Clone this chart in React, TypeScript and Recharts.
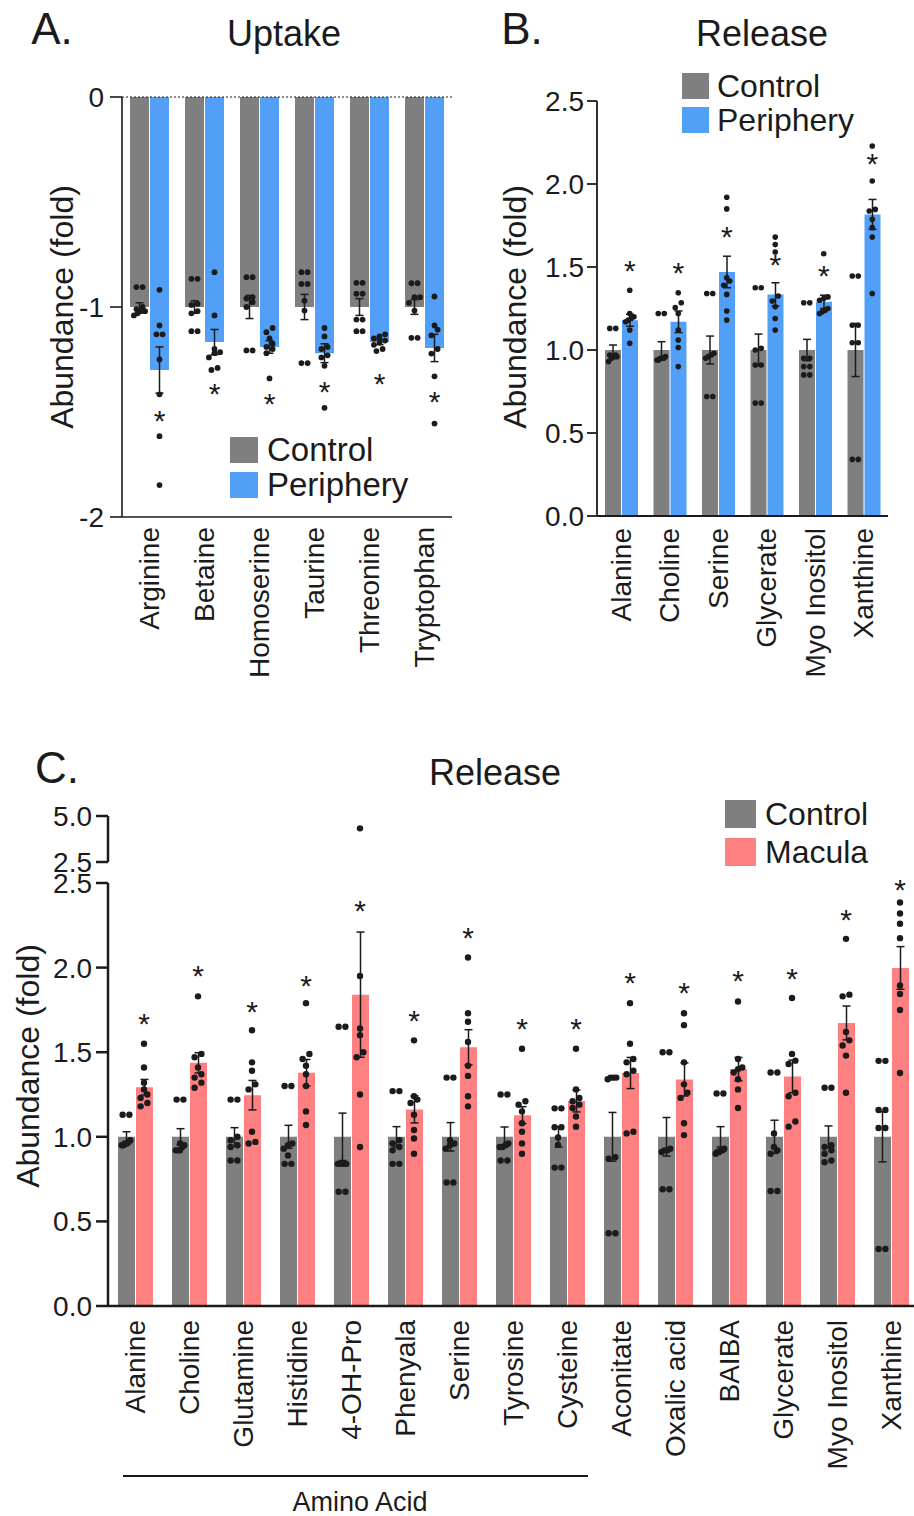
import { ComposedChart, Bar, ErrorBar, Scatter, XAxis, YAxis, ReferenceLine } from 'recharts';

const FONT = '"Liberation Sans", Arial, Helvetica, sans-serif';
const INK = '#1b1b1b';
const GREY = '#7f7f7f';
const BLUE = '#519ff7';
const PINK = '#fe8080';

// ---- A. Uptake (control vs periphery, fold change, negative) ----
const uptakeNames = ['Arginine', 'Betaine', 'Homoserine', 'Taurine', 'Threonine', 'Tryptophan'];
const uptakeCtrlMean = [-1.0, -1.0, -1.0, -1.0, -1.0, -1.0];
const uptakeCtrlSem = [0.02, 0.03, 0.055, 0.06, 0.04, 0.035];
const uptakePeriMean = [-1.3, -1.167, -1.19, -1.22, -1.167, -1.195];
const uptakePeriSem = [0.11, 0.06, 0.03, 0.045, 0.012, 0.065];
const uptakeCtrlPts = [
  [-0.905, -0.905, -1.0, -1.01, -1.02, -1.02, -1.03, -1.04],
  [-0.866, -0.866, -0.985, -0.99, -1.02, -1.03, -1.115, -1.115],
  [-0.858, -0.858, -0.953, -0.96, -0.977, -1.0, -1.207, -1.207],
  [-0.834, -0.834, -0.89, -0.89, -0.97, -1.017, -1.267, -1.267],
  [-0.885, -0.885, -0.937, -0.937, -1.06, -1.06, -1.115, -1.115],
  [-0.887, -0.887, -0.953, -0.953, -0.98, -1.017, -1.147, -1.147],
];
const uptakePeriPts = [
  [-0.918, -1.088, -1.13, -1.13, -1.25, -1.416, -1.615, -1.848],
  [-0.834, -1.04, -1.2, -1.215, -1.22, -1.24, -1.29, -1.3],
  [-1.1, -1.12, -1.15, -1.175, -1.19, -1.2, -1.22, -1.34],
  [-1.1, -1.14, -1.19, -1.2, -1.23, -1.24, -1.28, -1.48],
  [-1.13, -1.14, -1.15, -1.16, -1.17, -1.18, -1.2, -1.21],
  [-0.95, -1.088, -1.108, -1.135, -1.2, -1.222, -1.33, -1.555],
];
const uptakeStars = [-1.508, -1.38, -1.428, -1.373, -1.333, -1.42];

// ---- B. Release (control vs periphery) ----
const periNames = ['Alanine', 'Choline', 'Serine', 'Glycerate', 'Myo Inositol', 'Xanthine'];
const periCtrlMean = [1, 1, 1, 1, 1, 1];
const periCtrlSem = [0.03, 0.05, 0.084, 0.096, 0.064, 0.16];
const periExpMean = [1.179, 1.17, 1.47, 1.335, 1.29, 1.817];
const periExpSem = [0.036, 0.065, 0.095, 0.07, 0.04, 0.09];
const periCtrlPts = [
  [1.13, 1.13, 0.97, 0.96, 0.96, 0.97, 0.95, 0.93],
  [1.22, 1.22, 0.96, 0.95, 0.95, 0.95, 0.94, 0.94],
  [1.34, 1.34, 0.98, 0.97, 0.96, 0.95, 0.72, 0.72],
  [1.375, 1.375, 1.01, 1.0, 0.91, 0.91, 0.68, 0.68],
  [1.285, 1.285, 0.95, 0.95, 0.9, 0.9, 0.85, 0.85],
  [1.446, 1.446, 1.149, 1.149, 1.044, 1.044, 0.341, 0.341],
];
const periExpPts = [
  [1.36, 1.22, 1.2, 1.19, 1.18, 1.17, 1.12, 1.04],
  [1.345, 1.285, 1.255, 1.22, 1.12, 1.06, 1.015, 0.9],
  [1.92, 1.85, 1.435, 1.415, 1.39, 1.335, 1.235, 1.18],
  [1.68, 1.635, 1.59, 1.325, 1.295, 1.26, 1.19, 1.12],
  [1.58, 1.32, 1.31, 1.3, 1.25, 1.24, 1.23, 1.22],
  [2.229, 2.018, 1.847, 1.837, 1.787, 1.737, 1.68, 1.34],
];
const periStars = [1.52, 1.506, 1.72, 1.556, 1.49, 2.163];

// ---- C. Release (control vs macula) ----
const macNames = [
  'Alanine', 'Choline', 'Glutamine', 'Histidine', '4-OH-Pro', 'Phenyala', 'Serine', 'Tyrosine',
  'Cysteine', 'Aconitate', 'Oxalic acid', 'BAIBA', 'Glycerate', 'Myo Inositol', 'Xanthine',
];
const macCtrlMean = [1, 1, 1, 1, 1, 1, 1, 1, 1, 1, 1, 1, 1, 1, 1];
const macCtrlSem = [0.03, 0.048, 0.054, 0.068, 0.14, 0.06, 0.084, 0.058, 0.06, 0.144, 0.114, 0.06, 0.098, 0.064, 0.148];
const macExpMean = [1.293, 1.437, 1.246, 1.379, 1.84, 1.162, 1.529, 1.128, 1.212, 1.377, 1.339, 1.4, 1.357, 1.673, 1.998];
const macExpSem = [0.046, 0.06, 0.087, 0.078, 0.37, 0.08, 0.104, 0.05, 0.065, 0.092, 0.098, 0.069, 0.096, 0.1, 0.126];
const macCtrlPts = [
  [1.13, 1.13, 0.98, 0.97, 0.96, 0.96, 0.95, 0.95],
  [1.22, 1.22, 0.96, 0.95, 0.94, 0.92, 0.92, 0.92],
  [1.22, 1.22, 1.0, 0.98, 0.95, 0.94, 0.86, 0.86],
  [1.3, 1.3, 0.96, 0.95, 0.93, 0.89, 0.84, 0.84],
  [1.65, 1.65, 0.84, 0.84, 0.84, 0.84, 0.675, 0.675],
  [1.27, 1.27, 0.98, 0.96, 0.94, 0.92, 0.84, 0.84],
  [1.35, 1.35, 0.98, 0.96, 0.95, 0.93, 0.73, 0.73],
  [1.25, 1.25, 0.96, 0.95, 0.94, 0.94, 0.86, 0.86],
  [1.168, 1.168, 1.056, 1.056, 0.996, 0.952, 0.818, 0.818],
  [1.35, 1.35, 1.35, 1.34, 0.88, 0.87, 0.43, 0.43],
  [1.5, 1.5, 0.93, 0.92, 0.92, 0.91, 0.69, 0.69],
  [1.256, 1.256, 0.93, 0.92, 0.92, 0.91, 0.91, 0.9],
  [1.38, 1.38, 1.02, 0.94, 0.92, 0.9, 0.68, 0.68],
  [1.29, 1.29, 0.95, 0.94, 0.92, 0.9, 0.86, 0.85],
  [1.449, 1.449, 1.158, 1.158, 1.052, 1.052, 0.337, 0.337],
];
const macExpPts = [
  [1.55, 1.41, 1.32, 1.28, 1.25, 1.23, 1.2, 1.18],
  [1.83, 1.49, 1.47, 1.41, 1.37, 1.35, 1.32, 1.29],
  [1.63, 1.44, 1.39, 1.31, 1.28, 1.03, 0.97, 0.96],
  [1.79, 1.49, 1.46, 1.42, 1.37, 1.3, 1.15, 1.07],
  [4.33, 1.95, 1.64, 1.6, 1.5, 1.47, 1.25, 0.94],
  [1.57, 1.24, 1.22, 1.2, 1.13, 1.04, 0.99, 0.9],
  [2.06, 1.73, 1.68, 1.56, 1.42, 1.36, 1.24, 1.18],
  [1.52, 1.21, 1.19, 1.15, 1.08, 1.03, 0.96, 0.9],
  [1.52, 1.28, 1.23, 1.21, 1.19, 1.17, 1.12, 1.06],
  [1.79, 1.55, 1.46, 1.44, 1.39, 1.37, 1.03, 1.02],
  [1.73, 1.66, 1.44, 1.31, 1.26, 1.23, 1.08, 1.01],
  [1.8, 1.46, 1.41, 1.4, 1.38, 1.34, 1.28, 1.17],
  [1.82, 1.49, 1.45, 1.43, 1.26, 1.24, 1.09, 1.06],
  [2.17, 1.84, 1.83, 1.62, 1.57, 1.54, 1.48, 1.26],
  [2.385, 2.32, 2.259, 2.174, 1.894, 1.844, 1.749, 1.377],
];
const macStars = [1.709, 1.99, 1.78, 1.934, 2.375, 1.723, 2.214, 1.677, 1.677, 1.948, 1.894, 1.964, 1.974, 2.325, 2.5];

// y-axis break for panel C
const BREAK = 2.5;

type Row = Record<string, any>;
const PT_KEYS = [0, 1, 2, 3, 4, 5, 6, 7];

function makeRows(
  names: string[], ctrlMean: number[], ctrlSem: number[], expMean: number[], expSem: number[],
  ctrlPts: number[][], expPts: number[][], stars: number[] | null, keep: (v: number) => boolean = () => true,
): Row[] {
  return names.map((name, i) => {
    const row: Row = {
      name, ctrl: ctrlMean[i], ctrlSem: ctrlSem[i], exp: expMean[i], expSem: expSem[i],
      star: stars ? stars[i] : undefined, cAll: ctrlPts[i], eAll: expPts[i],
    };
    ctrlPts[i].forEach((v, k) => { row['c' + k] = keep(v) ? v : undefined; });
    expPts[i].forEach((v, k) => { row['e' + k] = keep(v) ? v : undefined; });
    return row;
  });
}

// spread near-equal replicates side by side, like a small beeswarm
function swarm(vals: number[], tol: number, step: number, maxW: number): number[] {
  const order = vals.map((_, i) => i).sort((a, b) => vals[a] - vals[b]);
  const offs = vals.map(() => 0);
  let i = 0;
  while (i < order.length) {
    let j = i + 1;
    while (j < order.length && vals[order[j]] - vals[order[i]] < tol) j++;
    const k = j - i;
    const sp = k > 1 ? Math.min(step, maxW / (k - 1)) : 0;
    for (let m = 0; m < k; m++) offs[order[i + m]] = (m - (k - 1) / 2) * sp;
    i = j;
  }
  return offs;
}

const rotTick = (dy: number) => (p: any) => (
  <text
    transform={`translate(${p.x},${p.y + dy}) rotate(-90)`}
    textAnchor="end" dominantBaseline="central"
    fontSize={28} fill={INK} fontFamily={FONT}
  >
    {p.payload.value}
  </text>
);

interface ChartProps {
  rows: Row[];
  width: number;
  height: number;
  margin: { top: number; right: number; bottom: number; left: number };
  domain: [number, number];
  ticks: number[];
  yWidth: number;
  fmt: (v: number) => string;
  expColor: string;
  barSize: number;
  barGap: number;
  tol: number;
  dotR: number;
  tickSize: number;
  tickMargin: number;
  axisW: number;
  xHeight: number;
  labelDy: number;
  hideX?: boolean;
  bars?: boolean;
  zeroLine?: boolean;
}

function DotBarChart(props: ChartProps) {
  const {
    rows, width, height, margin, domain, ticks, yWidth, fmt, expColor, barSize, barGap, tol, dotR,
    tickSize, tickMargin, axisW, xHeight, labelDy, hideX = false, bars = true, zeroLine = false,
  } = props;
  const shift = (barSize + barGap) / 2;

  const dot = (side: 'c' | 'e', k: number) => (p: any) => {
    const { cx, cy, payload } = p;
    if (!Number.isFinite(cx) || !Number.isFinite(cy)) return <g />;
    const offs = swarm(payload[side + 'All'], tol, dotR * 2 + 0.4, barSize - dotR * 2 - 2);
    const x = cx + (side === 'c' ? -shift : shift) + offs[k];
    return <circle cx={x} cy={cy} r={dotR} fill={INK} />;
  };

  // significance asterisk, glyph centred on its value
  const star = (p: any) => {
    const { cx, cy } = p;
    if (!Number.isFinite(cx) || !Number.isFinite(cy)) return <g />;
    return (
      <text x={cx + shift} y={cy} dy={17} textAnchor="middle" fontSize={30} fill={INK} fontFamily={FONT}>*</text>
    );
  };

  return (
    <ComposedChart width={width} height={height} data={rows} margin={margin} barGap={barGap} style={{ fontFamily: FONT }}>
      <XAxis
        dataKey="name" scale="band" hide={hideX} height={xHeight} interval={0}
        tickLine={false} tickSize={0} tickMargin={0}
        axisLine={{ stroke: INK, strokeWidth: axisW }} tick={rotTick(labelDy)}
      />
      <YAxis
        type="number" domain={domain} ticks={ticks} width={yWidth} interval={0}
        tickFormatter={fmt} tickSize={tickSize} tickMargin={tickMargin}
        axisLine={{ stroke: INK, strokeWidth: axisW }} tickLine={{ stroke: INK, strokeWidth: axisW }}
        tick={{ fontSize: 28, fill: INK, fontFamily: FONT }}
      />
      {zeroLine && <ReferenceLine y={0} stroke={INK} strokeWidth={1.2} strokeDasharray="2 2" />}
      {bars && (
        <Bar dataKey="ctrl" fill={GREY} barSize={barSize} isAnimationActive={false}>
          <ErrorBar dataKey="ctrlSem" width={4} stroke={INK} strokeWidth={1.5} direction="y" isAnimationActive={false} />
        </Bar>
      )}
      {bars && (
        <Bar dataKey="exp" fill={expColor} barSize={barSize} isAnimationActive={false}>
          <ErrorBar dataKey="expSem" width={4} stroke={INK} strokeWidth={1.5} direction="y" isAnimationActive={false} />
        </Bar>
      )}
      {PT_KEYS.map((k) => (
        <Scatter key={'c' + k} dataKey={'c' + k} shape={dot('c', k)} isAnimationActive={false} />
      ))}
      {PT_KEYS.map((k) => (
        <Scatter key={'e' + k} dataKey={'e' + k} shape={dot('e', k)} isAnimationActive={false} />
      ))}
      {bars && <Scatter dataKey="star" shape={star} isAnimationActive={false} />}
    </ComposedChart>
  );
}

function Txt({ x, y, size, children, rotate = false }: { x: number; y: number; size: number; children: string; rotate?: boolean }) {
  return (
    <div
      style={{
        position: 'absolute', left: x, top: y, fontSize: size, lineHeight: 1, whiteSpace: 'nowrap',
        color: INK, fontFamily: FONT,
        transform: `translate(-50%, -50%)${rotate ? ' rotate(-90deg)' : ''}`,
      }}
    >
      {children}
    </div>
  );
}

function Key({ left, top, rowH, sw, swH, gap, size, items }: {
  left: number; top: number; rowH: number; sw: number; swH: number; gap: number; size: number;
  items: { label: string; color: string }[];
}) {
  return (
    <div style={{ position: 'absolute', left, top, fontFamily: FONT, color: INK }}>
      {items.map((it) => (
        <div key={it.label} style={{ display: 'flex', alignItems: 'center', height: rowH }}>
          <div style={{ width: sw, height: swH, background: it.color }} />
          <span style={{ marginLeft: gap, fontSize: size, lineHeight: 1 }}>{it.label}</span>
        </div>
      ))}
    </div>
  );
}

const fmtInt = (v: number) => String(v);
const fmt1 = (v: number) => v.toFixed(1);

export default function App() {
  const uptakeRows = makeRows(uptakeNames, uptakeCtrlMean, uptakeCtrlSem, uptakePeriMean, uptakePeriSem,
    uptakeCtrlPts, uptakePeriPts, uptakeStars);
  const periRows = makeRows(periNames, periCtrlMean, periCtrlSem, periExpMean, periExpSem,
    periCtrlPts, periExpPts, periStars);
  const macLow = makeRows(macNames, macCtrlMean, macCtrlSem, macExpMean, macExpSem,
    macCtrlPts, macExpPts, macStars, (v) => v <= BREAK);
  const macHigh = makeRows(macNames, macCtrlMean, macCtrlSem, macExpMean, macExpSem,
    macCtrlPts, macExpPts, null, (v) => v > BREAK);

  return (
    <div style={{ position: 'absolute', left: 0, top: 0, width: 914, height: 1516, overflow: 'hidden', background: '#fff', fontFamily: FONT }}>
      {/* A */}
      <div style={{ position: 'absolute', left: 0, top: 0 }}>
        <DotBarChart
          rows={uptakeRows} width={470} height={700}
          margin={{ top: 97, right: 18, bottom: 0, left: 0 }}
          domain={[-2, 0]} ticks={[-2, -1, 0]} yWidth={122} fmt={fmtInt}
          expColor={BLUE} barSize={19} barGap={1} tol={0.028} dotR={2.9}
          tickSize={12} tickMargin={6} axisW={1.6} xHeight={183} labelDy={10} zeroLine
        />
      </div>
      <Txt x={52} y={29} size={44}>A.</Txt>
      <Txt x={284} y={34} size={36}>Uptake</Txt>
      <Txt x={62} y={307} size={32} rotate>Abundance (fold)</Txt>
      <Key left={230} top={432} rowH={35} sw={28} swH={26} gap={9} size={33}
        items={[{ label: 'Control', color: GREY }, { label: 'Periphery', color: BLUE }]} />

      {/* B */}
      <div style={{ position: 'absolute', left: 460, top: 0 }}>
        <DotBarChart
          rows={periRows} width={454} height={700}
          margin={{ top: 101, right: 26, bottom: 0, left: 0 }}
          domain={[0, 2.5]} ticks={[0, 0.5, 1, 1.5, 2, 2.5]} yWidth={137} fmt={fmt1}
          expColor={BLUE} barSize={16} barGap={1} tol={0.034} dotR={2.8}
          tickSize={10} tickMargin={3} axisW={1.8} xHeight={184} labelDy={12}
        />
      </div>
      <Txt x={522} y={29} size={44}>B.</Txt>
      <Txt x={762} y={34} size={36}>Release</Txt>
      <Txt x={515} y={307} size={32} rotate>Abundance (fold)</Txt>
      <Key left={682} top={69} rowH={34} sw={27} swH={26} gap={8} size={32}
        items={[{ label: 'Control', color: GREY }, { label: 'Periphery', color: BLUE }]} />

      {/* C, lower part of the broken axis */}
      <div style={{ position: 'absolute', left: 0, top: 740 }}>
        <DotBarChart
          rows={macLow} width={930} height={776}
          margin={{ top: 143, right: 12, bottom: 0, left: 0 }}
          domain={[0, BREAK]} ticks={[0, 0.5, 1, 1.5, 2, 2.5]} yWidth={108} fmt={fmt1}
          expColor={PINK} barSize={17} barGap={1} tol={0.033} dotR={3.2}
          tickSize={12} tickMargin={4} axisW={2.5} xHeight={210} labelDy={14}
        />
      </div>
      {/* C, upper part of the broken axis */}
      <div style={{ position: 'absolute', left: 0, top: 790 }}>
        <DotBarChart
          rows={macHigh} width={930} height={110}
          margin={{ top: 26, right: 12, bottom: 38, left: 0 }}
          domain={[BREAK, 5]} ticks={[BREAK, 5]} yWidth={108} fmt={fmt1}
          expColor={PINK} barSize={17} barGap={1} tol={0.033} dotR={3.2}
          tickSize={12} tickMargin={4} axisW={2.5} xHeight={0} labelDy={0} hideX bars={false}
        />
      </div>
      <Txt x={57} y={768} size={44}>C.</Txt>
      <Txt x={495} y={773} size={36}>Release</Txt>
      <Txt x={28} y={1066} size={32} rotate>Abundance (fold)</Txt>
      <Key left={725} top={795} rowH={38} sw={31} swH={28} gap={9} size={32}
        items={[{ label: 'Control', color: GREY }, { label: 'Macula', color: PINK }]} />

      <div style={{ position: 'absolute', left: 123, top: 1475, width: 465, height: 2, background: INK }} />
      <Txt x={360} y={1502} size={27}>Amino Acid</Txt>
    </div>
  );
}
